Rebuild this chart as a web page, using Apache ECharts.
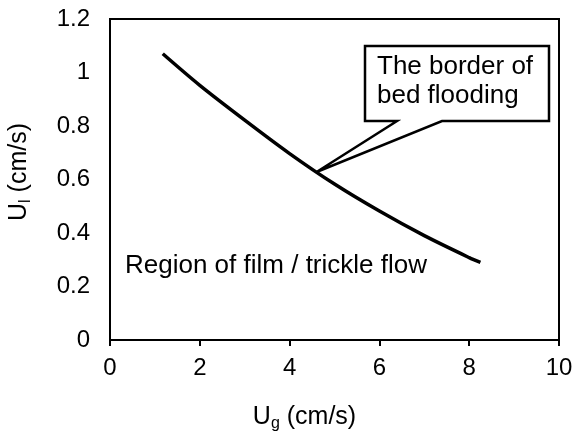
<!DOCTYPE html>
<html>
<head>
<meta charset="utf-8">
<script src="https://cdn.jsdelivr.net/npm/echarts@6/dist/echarts.min.js"></script>
<style>
  html, body { margin: 0; padding: 0; background: #fff; }
  #main { width: 575px; height: 434px; }
</style>
</head>
<body>
<div id="main"></div>
<script>
// gas velocity Ug (cm/s) and liquid velocity Ul (cm/s) along the flooding border
var ugValues = [1.175, 2, 3, 4, 5, 6, 7, 8, 8.25];
var ulValues = [1.07, 0.952, 0.822, 0.697, 0.583, 0.482, 0.39, 0.308, 0.29];
var borderPoint = [4.6, 0.628];
var calloutLines = ['The border of', 'bed flooding'];
var regionText = 'Region of film / trickle flow';

var font = "'Liberation Sans', Arial, sans-serif";
var chart = echarts.init(document.getElementById('main'));

var lineData = ugValues.map(function (x, i) { return [x, ulValues[i]]; });

var nameRich = {
  a: { fontSize: 25, fontFamily: font, color: '#000' },
  sub: { fontSize: 16, fontFamily: font, color: '#000', padding: [14, 0, 0, 0] }
};

var option = {
  animation: false,
  backgroundColor: '#fff',
  grid: {
    left: 110, right: 16, top: 19, bottom: 94,
    show: true, borderColor: '#000', borderWidth: 2,
    outerBoundsMode: 'none'
  },
  xAxis: {
    type: 'value', min: 0, max: 10, interval: 2,
    name: '{a|U}{sub|g}{a| (cm/s)}',
    nameLocation: 'middle', nameGap: 62,
    nameTextStyle: { padding: [0, 60, 0, 0], rich: nameRich },
    axisLine: { lineStyle: { color: '#000', width: 2 } },
    axisTick: { show: true, length: 6, lineStyle: { color: '#000', width: 2 } },
    axisLabel: { color: '#000', fontSize: 24, fontFamily: font, margin: 16 },
    splitLine: { show: false }
  },
  yAxis: {
    type: 'value', min: 0, max: 1.2, interval: 0.2,
    name: '{a|U}{sub|l}{a| (cm/s)}',
    nameLocation: 'middle', nameGap: 76,
    nameTextStyle: { padding: [0, 0, 0, 15], rich: nameRich },
    axisLine: { show: true, lineStyle: { color: '#000', width: 2 } },
    axisTick: { show: false },
    axisLabel: {
      color: '#000', fontSize: 24, fontFamily: font, margin: 20,
      formatter: function (v) { return String(Math.round(v * 10) / 10); }
    },
    splitLine: { show: false }
  },
  series: [{
    type: 'line',
    data: lineData,
    smooth: 0.3,
    symbol: 'none',
    lineStyle: { color: '#000', width: 3.5 },
    z: 3
  }]
};
chart.setOption(option);

var tip = chart.convertToPixel({ gridIndex: 0 }, borderPoint);
var bx0 = 365, by0 = 46, bx1 = 549, by1 = 121;

chart.setOption({
  graphic: [
    {
      type: 'polygon',
      shape: { points: [[bx0, by0], [bx1, by0], [bx1, by1], [442, by1], tip, [397, by1], [bx0, by1]] },
      style: { fill: '#fff', stroke: '#000', lineWidth: 2.5 },
      z: 10
    },
    {
      type: 'text', left: 377, top: 52, z: 11,
      style: { text: calloutLines.join('\n'), font: '26px ' + font, fill: '#000', lineHeight: 29 }
    },
    {
      type: 'text', left: 125, top: 253, z: 11,
      style: { text: regionText, font: '26px ' + font, fill: '#000' }
    }
  ]
});
</script>
</body>
</html>
